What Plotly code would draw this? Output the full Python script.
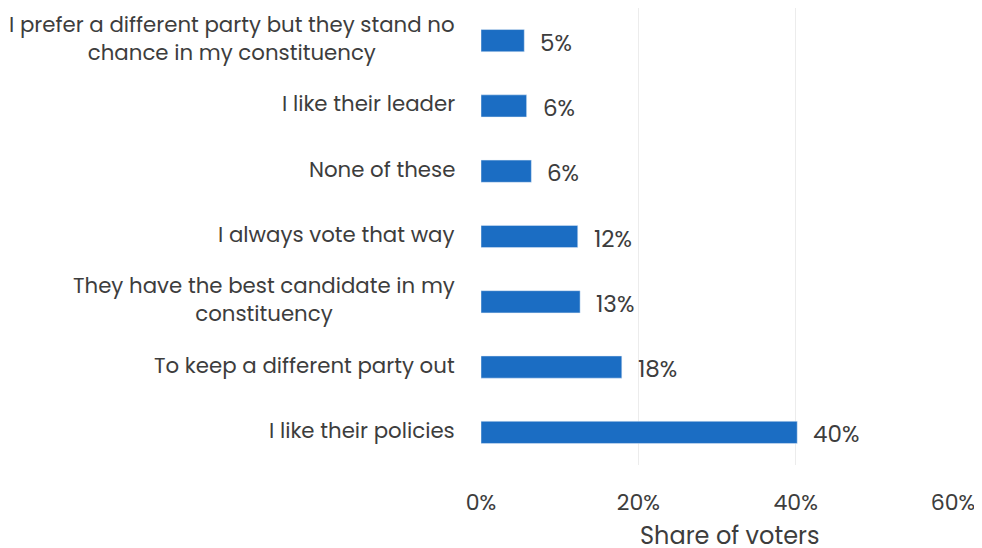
import plotly.graph_objects as go

# survey answers, listed top to bottom as in the chart
reasons = [
    'I prefer a different party but they stand no<br>chance in my constituency',
    'I like their leader',
    'None of these',
    'I always vote that way',
    'They have the best candidate in my<br>constituency',
    'To keep a different party out',
    'I like their policies',
]
share = [5.5, 5.8, 6.4, 12.3, 12.6, 17.9, 40.2]
share_labels = ['5%', '6%', '6%', '12%', '13%', '18%', '40%']

x_ticks = [0, 20, 40, 60]
x_tick_labels = ['0%', '20%', '40%', '60%']
x_title = 'Share of voters'

FONT = 'Poppins, Inter, Open Sans, sans-serif'
TEXT_COLOR = '#3d3d3d'
BAR_COLOR = '#1b6dc3'

fig = go.Figure(go.Bar(
    x=share,
    y=reasons,
    orientation='h',
    marker=dict(color=BAR_COLOR),
    width=0.34,
    hoverinfo='skip',
))

annotations = []
for r, v, lab in zip(reasons, share, share_labels):
    # data label to the right of each bar
    annotations.append(dict(
        x=v, y=r, xref='x', yref='y', text=lab,
        xanchor='left', yanchor='middle', xshift=14, yshift=-2,
        showarrow=False,
        font=dict(family=FONT, size=23, color=TEXT_COLOR),
    ))
    # category label, centred lines, right aligned to the axis
    annotations.append(dict(
        x=0, y=r, xref='paper', yref='y', text=r,
        xanchor='right', yanchor='middle', xshift=-24, yshift=2,
        align='center', showarrow=False,
        font=dict(family=FONT, size=21.3, color=TEXT_COLOR),
    ))

# axis title placed as an annotation so its position is fixed
annotations.append(dict(
    x=0.5, y=0, xref='paper', yref='paper', text=x_title,
    xanchor='center', yanchor='middle', xshift=13, yshift=-70,
    showarrow=False,
    font=dict(family=FONT, size=24, color=TEXT_COLOR),
))

# the page body adds an 8px offset at top-left
fig.update_layout(
    width=982,
    height=548,
    margin=dict(l=473, r=37, t=0, b=91),
    plot_bgcolor='white',
    paper_bgcolor='white',
    showlegend=False,
    font=dict(family=FONT, size=20, color=TEXT_COLOR),
    annotations=annotations,
    xaxis=dict(
        range=[0, 60],
        tickvals=x_ticks,
        ticktext=x_tick_labels,
        showgrid=True,
        gridcolor='#ececec',
        gridwidth=1,
        zeroline=False,
        showline=False,
        ticks='',
        automargin=False,
        ticklabelstandoff=22,
        tickfont=dict(family=FONT, size=22, color=TEXT_COLOR),
    ),
    yaxis=dict(
        autorange='reversed',
        showticklabels=False,
        showgrid=False,
        zeroline=False,
        showline=False,
        ticks='',
        automargin=False,
    ),
)

fig.write_html('out.html')
